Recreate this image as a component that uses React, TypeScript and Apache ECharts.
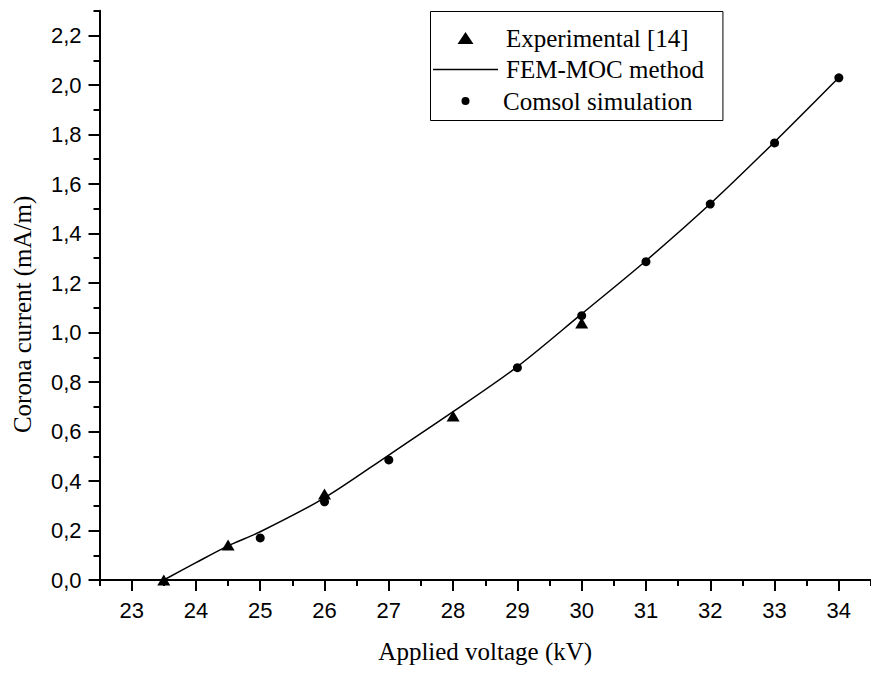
import React, { useEffect, useRef } from "react";
import * as echarts from "echarts";

// Tick positions (kV on x, mA/m on y)
const xMajorTicks = [23, 24, 25, 26, 27, 28, 29, 30, 31, 32, 33, 34];
const xMinorTicks = [22.5, 23.5, 24.5, 25.5, 26.5, 27.5, 28.5, 29.5, 30.5, 31.5, 32.5, 33.5, 34.5];
const yMajorTicks = [0, 0.2, 0.4, 0.6, 0.8, 1.0, 1.2, 1.4, 1.6, 1.8, 2.0, 2.2];
const yMinorTicks = [0.1, 0.3, 0.5, 0.7, 0.9, 1.1, 1.3, 1.5, 1.7, 1.9, 2.1, 2.3];

// Experimental [14]
const experimentalVoltage = [23.5, 24.5, 26, 28, 30];
const experimentalCurrent = [0, 0.141, 0.347, 0.663, 1.038];

// FEM-MOC method
const femVoltage = [23.5, 24, 24.5, 25, 26, 27, 28, 29, 30, 31, 32, 33, 34];
const femCurrent = [0, 0.07, 0.138, 0.195, 0.332, 0.505, 0.68, 0.862, 1.075, 1.29, 1.52, 1.77, 2.03];

// Comsol simulation
const comsolVoltage = [25, 26, 27, 29, 30, 31, 32, 33, 34];
const comsolCurrent = [0.17, 0.316, 0.485, 0.858, 1.068, 1.286, 1.519, 1.766, 2.029];

const pairs = (xs: number[], ys: number[]) => xs.map((x, i) => [x, ys[i]]);

const SANS = "'Liberation Sans', Arial, sans-serif";
const SERIF = "'Liberation Serif', 'Times New Roman', serif";

export default function App() {
  const ref = useRef<HTMLDivElement>(null);

  useEffect(() => {
    const chart = echarts.init(ref.current!, null, { renderer: "svg" });
    const axisLine = { show: true, lineStyle: { color: "#000", width: 2 } };

    chart.setOption({
      animation: false,
      backgroundColor: "#fff",
      grid: { left: 99.5, right: 0, top: 10.75, bottom: 93, containLabel: false },
      legend: {
        orient: "vertical",
        left: 430.5,
        top: 11.5,
        padding: [14, 19, 7, 2.5],
        borderColor: "#000",
        borderWidth: 1,
        itemWidth: 65,
        itemHeight: 12,
        itemGap: 6.5,
        textStyle: { fontFamily: SERIF, fontSize: 25, color: "#000", lineHeight: 25, padding: [0, 0, 0, 3] },
        data: [
          { name: "Experimental [14]", icon: "path://M8 0 L16 12 L0 12 Z" },
          { name: "FEM-MOC method", icon: "path://M0 0 L65 0 L65 1.5 L0 1.5 Z" },
          {
            name: "Comsol simulation",
            icon: "path://M0 0 M12 12 M2 6 A4 4 0 1 1 10 6 A4 4 0 1 1 2 6 Z",
            textStyle: { padding: [0, 0, 0, 0] },
          },
        ],
      },
      xAxis: [
        {
          type: "value",
          position: "bottom",
          min: 22.5,
          max: 34.5,
          offset: 1.5,
          name: "Applied voltage (kV)",
          nameLocation: "middle",
          nameGap: 57,
          nameTextStyle: { fontFamily: SERIF, fontSize: 25, color: "#000" },
          axisLine,
          axisTick: { show: true, customValues: xMajorTicks, length: 11, lineStyle: { color: "#000", width: 2 } },
          axisLabel: {
            customValues: xMajorTicks,
            margin: 18,
            fontFamily: SANS,
            fontSize: 22,
            color: "#000",
            formatter: (v: number) => String(v),
          },
          splitLine: { show: false },
        },
        {
          type: "value",
          position: "bottom",
          min: 22.5,
          max: 34.5,
          offset: 1.5,
          axisLine: { show: false },
          axisTick: { show: true, customValues: xMinorTicks, length: 6, lineStyle: { color: "#000", width: 2 } },
          axisLabel: { show: false, customValues: xMinorTicks },
          splitLine: { show: false },
        },
      ],
      yAxis: [
        {
          type: "value",
          position: "left",
          min: 0,
          max: 2.3,
          name: "Corona current (mA/m)",
          nameLocation: "middle",
          nameGap: 65,
          nameTextStyle: { fontFamily: SERIF, fontSize: 25, color: "#000", padding: [0, 38, 0, 0] },
          axisLine,
          axisTick: { show: true, customValues: yMajorTicks, length: 11, lineStyle: { color: "#000", width: 2 } },
          axisLabel: {
            customValues: yMajorTicks,
            margin: 18,
            fontFamily: SANS,
            fontSize: 22,
            color: "#000",
            formatter: (v: number) => v.toFixed(1).replace(".", ","),
          },
          splitLine: { show: false },
        },
        {
          type: "value",
          position: "left",
          min: 0,
          max: 2.3,
          axisLine: { show: false },
          axisTick: { show: true, customValues: yMinorTicks, length: 6, lineStyle: { color: "#000", width: 2 } },
          axisLabel: { show: false, customValues: yMinorTicks },
          splitLine: { show: false },
        },
      ],
      series: [
        {
          name: "FEM-MOC method",
          type: "line",
          smooth: 0.3,
          symbol: "none",
          lineStyle: { color: "#000", width: 1.5 },
          itemStyle: { color: "#000" },
          data: pairs(femVoltage, femCurrent),
          z: 2,
        },
        {
          name: "Comsol simulation",
          type: "scatter",
          symbol: "circle",
          symbolSize: 9,
          itemStyle: { color: "#000", opacity: 1 },
          data: pairs(comsolVoltage, comsolCurrent),
          z: 3,
        },
        {
          name: "Experimental [14]",
          type: "scatter",
          symbol: "triangle",
          symbolSize: [13, 11],
          itemStyle: { color: "#000", opacity: 1 },
          data: pairs(experimentalVoltage, experimentalCurrent),
          z: 4,
        },
      ],
    });

    return () => chart.dispose();
  }, []);

  return (
    <div
      ref={ref}
      style={{ position: "fixed", left: 0, top: 0, width: 871, height: 673, background: "#fff" }}
    />
  );
}
